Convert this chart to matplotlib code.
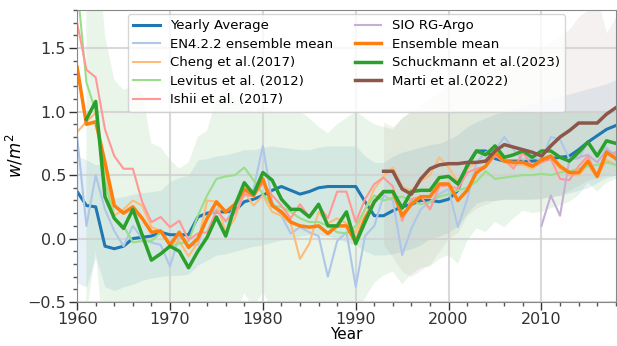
import numpy as np
import matplotlib
matplotlib.use("Agg")
import matplotlib.pyplot as plt
from matplotlib.ticker import MultipleLocator

nan = np.nan
years = np.arange(1960, 2019)

# ocean heat uptake estimates, w/m^2
yearly_avg = [0.37, 0.26, 0.25, -0.06, -0.08, -0.06, 0.00, 0.01, 0.02, 0.05,
              0.03, 0.03, 0.03, 0.17, 0.20, 0.21, 0.21, 0.22, 0.29, 0.31,
              0.34, 0.38, 0.41, 0.38, 0.35, 0.37, 0.40, 0.41, 0.41, 0.41,
              0.41, 0.29, 0.18, 0.18, 0.22, 0.25, 0.27, 0.30, 0.30, 0.29,
              0.31, 0.38, 0.58, 0.69, 0.69, 0.63, 0.61, 0.61, 0.61, 0.61,
              0.62, 0.63, 0.64, 0.65, 0.70, 0.76, 0.81, 0.86, 0.89]
yearly_lo = [-0.35, -0.38, -0.15, -0.38, -0.41, -0.38, -0.36, -0.33, -0.31, -0.30,
             -0.29, -0.29, -0.28, -0.21, -0.17, -0.13, -0.12, -0.10, -0.08, -0.06,
             -0.05, -0.03, -0.01, 0.00, 0.02, 0.03, 0.03, 0.02, 0.00, -0.03,
             -0.05, -0.10, -0.13, -0.13, -0.12, -0.10, -0.08, -0.05, 0.00, 0.02,
             0.05, 0.10, 0.20, 0.28, 0.30, 0.30, 0.31, 0.31, 0.31, 0.31,
             0.32, 0.33, 0.34, 0.36, 0.38, 0.40, 0.44, 0.48, 0.50]
yearly_hi = [0.65, 0.62, 0.58, 0.60, 0.32, 0.33, 0.35, 0.36, 0.37, 0.38,
             0.45, 0.48, 0.50, 0.62, 0.63, 0.65, 0.66, 0.68, 0.70, 0.70,
             0.72, 0.73, 0.72, 0.71, 0.70, 0.70, 0.72, 0.73, 0.73, 0.73,
             0.73, 0.65, 0.60, 0.60, 0.65, 0.68, 0.70, 0.72, 0.74, 0.75,
             0.78, 0.82, 0.88, 0.92, 0.95, 0.98, 1.00, 1.02, 1.04, 1.06,
             1.08, 1.10, 1.12, 1.14, 1.16, 1.18, 1.20, 1.22, 1.25]

en4 = [0.80, 0.10, 0.50, 0.23, 0.06, -0.06, 0.10, 0.00, -0.03, -0.05,
       -0.22, 0.02, -0.05, -0.05, 0.16, 0.23, 0.13, 0.26, 0.34, 0.39,
       0.73, 0.29, 0.18, 0.04, 0.09, 0.05, 0.02, -0.30, -0.02, 0.05,
       -0.38, 0.02, 0.10, 0.34, 0.30, -0.13, 0.08, 0.23, 0.29, 0.35,
       0.39, 0.09, 0.31, 0.60, 0.68, 0.70, 0.80, 0.70, 0.62, 0.64,
       0.62, 0.80, 0.78, 0.63, 0.63, 0.76, 0.66, 0.72, 0.62]

cheng = [0.84, 0.92, 0.99, 0.55, 0.18, 0.23, 0.30, 0.26, 0.09, 0.06,
         -0.04, -0.02, -0.14, -0.03, 0.30, 0.29, 0.05, 0.16, 0.37, 0.26,
         0.34, 0.21, 0.18, 0.12, -0.16, -0.04, 0.21, 0.12, 0.16, 0.12,
         0.05, 0.23, 0.39, 0.49, 0.56, 0.41, 0.38, 0.45, 0.50, 0.64,
         0.56, 0.45, 0.55, 0.60, 0.62, 0.66, 0.60, 0.58, 0.58, 0.55,
         0.60, 0.63, 0.55, 0.50, 0.50, 0.58, 0.48, 0.62, 0.58]

levitus = [2.00, 1.23, 1.00, 0.45, 0.16, 0.10, -0.03, -0.02, -0.02, 0.05,
           -0.06, -0.04, -0.02, 0.18, 0.34, 0.47, 0.49, 0.50, 0.56, 0.46,
           0.35, 0.26, 0.25, 0.21, 0.16, 0.13, 0.13, 0.10, 0.05, 0.04,
           0.10, 0.23, 0.34, 0.30, 0.32, 0.33, 0.30, 0.27, 0.29, 0.33,
           0.35, 0.38, 0.40, 0.45, 0.53, 0.47, 0.48, 0.49, 0.50, 0.50,
           0.51, 0.50, 0.52, 0.53, 0.55, 0.57, 0.58, 0.60, 0.58]
levitus_lo = [nan, -0.60, -0.10, -0.90, -0.90, -0.90, -0.90, -0.90, -0.90, -0.90,
              -0.90, -0.90, -0.90, -0.90, -0.90, -0.80, -0.70, -0.60, -0.43, -0.55,
              -0.42, -0.55, -0.60, -0.60, -0.60, -0.60, -0.60, -0.60, -0.60, -0.60,
              -0.60, -0.47, -0.35, -0.29, -0.26, -0.36, -0.28, -0.23, -0.22, -0.16,
              -0.13, -0.20, -0.02, 0.08, 0.05, 0.13, 0.09, 0.16, 0.22, 0.20,
              0.21, 0.24, 0.26, 0.29, 0.34, 0.44, 0.37, 0.44, 0.47]
levitus_hi = [nan, 2.50, 2.50, 1.60, 1.25, 1.17, 1.20, 1.15, 0.75, 0.72,
              0.62, 0.55, 0.60, 0.80, 0.85, 1.10, 1.20, 1.10, 1.05, 1.00,
              1.05, 1.00, 1.00, 1.00, 1.00, 0.95, 0.88, 0.83, 0.90, 0.95,
              1.00, 0.95, 0.90, 0.88, 0.86, 0.95, 1.00, 1.00, 1.00, 1.00,
              1.00, 1.00, 1.00, 1.00, 1.00, 1.00, 1.00, 1.00, 1.00, 1.00,
              1.00, 1.00, 1.00, 1.00, 1.00, 1.00, 1.00, 1.00, 1.00]

ishii = [1.70, 1.33, 1.27, 0.86, 0.65, 0.55, 0.55, 0.29, 0.13, 0.17,
         0.09, 0.14, -0.01, 0.04, 0.05, 0.22, 0.14, 0.20, 0.35, 0.33,
         0.44, 0.34, 0.26, 0.16, 0.27, 0.17, 0.26, 0.16, 0.37, 0.37,
         0.13, 0.31, 0.43, 0.48, 0.41, 0.14, 0.31, 0.33, 0.23, 0.41,
         0.42, 0.39, 0.52, 0.55, 0.57, 0.65, 0.62, 0.55, 0.68, 0.57,
         0.60, 0.63, 0.47, 0.46, 0.57, 0.65, 0.49, 0.66, 0.68]

sio_years = np.arange(2010, 2019)
sio = [0.10, 0.34, 0.18, 0.62, 0.64, 0.66, 0.60, 0.70, 0.66]

ensemble = [1.35, 0.90, 0.92, 0.60, 0.26, 0.20, 0.25, 0.16, 0.05, 0.06,
            -0.05, 0.05, -0.07, 0.00, 0.16, 0.29, 0.21, 0.27, 0.39, 0.34,
            0.47, 0.26, 0.21, 0.13, 0.10, 0.09, 0.10, 0.04, 0.10, 0.10,
            -0.03, 0.16, 0.29, 0.37, 0.37, 0.18, 0.27, 0.33, 0.33, 0.43,
            0.43, 0.30, 0.38, 0.52, 0.57, 0.68, 0.61, 0.60, 0.60, 0.57,
            0.62, 0.65, 0.57, 0.52, 0.52, 0.61, 0.49, 0.68, 0.63]

schuckmann = [nan, 0.94, 1.08, 0.33, 0.16, 0.08, 0.23, 0.03, -0.17, -0.12,
              -0.06, -0.10, -0.23, -0.10, 0.01, 0.17, 0.02, 0.26, 0.44, 0.35,
              0.52, 0.46, 0.31, 0.23, 0.23, 0.17, 0.27, 0.10, 0.10, 0.21,
              -0.04, 0.13, 0.29, 0.37, 0.37, 0.24, 0.37, 0.38, 0.38, 0.48,
              0.49, 0.43, 0.57, 0.69, 0.66, 0.73, 0.64, 0.66, 0.69, 0.64,
              0.69, 0.69, 0.64, 0.61, 0.68, 0.76, 0.65, 0.77, 0.75]

marti_years = np.arange(1993, 2019)
marti = [0.53, 0.53, 0.39, 0.35, 0.47, 0.55, 0.58, 0.59, 0.59, 0.60,
         0.60, 0.61, 0.69, 0.74, 0.72, 0.70, 0.68, 0.65, 0.73, 0.80,
         0.85, 0.91, 0.91, 0.91, 0.98, 1.03]
marti_lo = [-0.05, -0.15, -0.26, -0.30, -0.25, -0.20, -0.10, 0.00, 0.05, 0.18,
            0.24, 0.27, 0.30, 0.31, 0.31, 0.31, 0.31, 0.31, 0.33, 0.34,
            0.38, 0.42, 0.46, 0.48, 0.50, 0.52]
marti_hi = [0.92, 0.88, 0.95, 1.00, 1.05, 1.10, 1.15, 1.20, 1.20, 1.25,
            1.30, 1.30, 1.35, 1.40, 1.40, 1.45, 1.50, 1.50, 1.55, 1.60,
            1.65, 1.75, 1.80, 1.90, 1.62, 1.75]

fig = plt.figure(figsize=(6.17, 3.46), dpi=100)
ax = fig.add_axes([0.125, 0.127, 0.873, 0.844])

# spreads
ax.fill_between(years, yearly_lo, yearly_hi, color="tab:blue", alpha=0.1, lw=0)
ax.fill_between(years, levitus_lo, levitus_hi, color="tab:green", alpha=0.1, lw=0)
ax.fill_between(marti_years, marti_lo, marti_hi, color="tab:brown", alpha=0.08, lw=0)

ax.plot(years, yearly_avg, color="tab:blue", lw=2.2, label="Yearly Average")
ax.plot(years, en4, color="#aec7e8", lw=1.5, label="EN4.2.2 ensemble mean")
ax.plot(years, cheng, color="#ffbb78", lw=1.5, label="Cheng et al.(2017)")
ax.plot(years, levitus, color="#98df8a", lw=1.5, label="Levitus et al. (2012)")
ax.plot(years, ishii, color="#ff9896", lw=1.5, label="Ishii et al. (2017)")
ax.plot(sio_years, sio, color="#c5b0d5", lw=1.5, label="SIO RG-Argo")
ax.plot(years, ensemble, color="tab:orange", lw=2.5, label="Ensemble mean")
ax.plot(years, schuckmann, color="tab:green", lw=2.5, label="Schuckmann et al.(2023)")
ax.plot(marti_years, marti, color="tab:brown", lw=2.5, label="Marti et al.(2022)")

ax.set_xlim(1960, 2018)
ax.set_ylim(-0.5, 1.8)
ax.xaxis.set_major_locator(MultipleLocator(10))
ax.xaxis.set_minor_locator(MultipleLocator(2))
ax.yaxis.set_major_locator(MultipleLocator(0.5))
ax.yaxis.set_minor_locator(MultipleLocator(0.1))
ax.grid(True, which="major", color="#d0d0d0", lw=1.5, alpha=0.8)
ax.tick_params(which="major", length=6, width=1, colors="#333333",
               labelsize=11.5, pad=2)
ax.tick_params(axis="x", which="major", pad=1)
ax.tick_params(which="minor", length=3, width=1, colors="#555555")
for s in ax.spines.values():
    s.set_color("#888888")

ax.set_xlabel("Year", fontsize=11, labelpad=0)
ax.set_ylabel("$w/m^2$", fontsize=12, labelpad=1)

ax.legend(ncol=2, loc="upper center", fontsize=9.5, borderaxespad=0.3,
          labelspacing=0.42, columnspacing=1.6)

fig.savefig("out.png", dpi=100)
